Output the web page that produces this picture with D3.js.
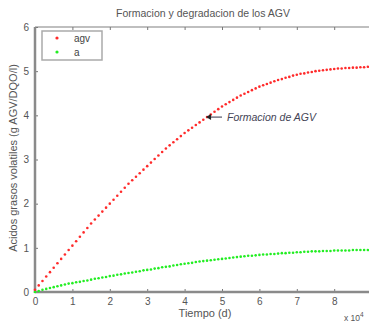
<!DOCTYPE html>
<html><head><meta charset="utf-8">
<script src="https://cdn.jsdelivr.net/npm/d3@7"></script>
<style>body{margin:0;background:#fff}svg{display:block}text{font-family:"Liberation Sans",Arial,sans-serif}</style>
</head><body><svg id="c" width="369" height="322"></svg>
<script>
const title = "Formacion y degradacion de los AGV";
const xLabel = "Tiempo (d)";
const yLabel = "Acidos grasos volatiles (g AGV/DQO/l)";
const xTicks = [0,1,2,3,4,5,6,7,8];
const yTicks = [0,1,2,3,4,5,6];
const seriesNames = ["agv","a"];
const time = [0.0,0.1,0.2,0.3,0.4,0.5,0.6,0.7,0.8,0.9,1.0,1.1,1.2,1.3,1.4,1.5,1.6,1.7,1.8,1.9,2.0,2.1,2.2,2.3,2.4,2.5,2.6,2.7,2.8,2.9,3.0,3.1,3.2,3.3,3.4,3.5,3.6,3.7,3.8,3.9,4.0,4.1,4.2,4.3,4.4,4.5,4.6,4.7,4.8,4.9,5.0,5.1,5.2,5.3,5.4,5.5,5.6,5.7,5.8,5.9,6.0,6.1,6.2,6.3,6.4,6.5,6.6,6.7,6.8,6.9,7.0,7.1,7.2,7.3,7.4,7.5,7.6,7.7,7.8,7.9,8.0,8.1,8.2,8.3,8.4,8.5,8.6,8.7,8.8,8.9,9.0];
const agv = [0.05,0.15,0.25,0.35,0.45,0.55,0.65,0.75,0.85,0.95,1.05,1.15,1.25,1.35,1.45,1.55,1.64,1.73,1.82,1.91,2.00,2.09,2.18,2.27,2.36,2.45,2.53,2.61,2.69,2.77,2.85,2.93,3.01,3.09,3.17,3.25,3.32,3.39,3.46,3.53,3.60,3.66,3.72,3.78,3.84,3.90,3.96,4.02,4.08,4.14,4.20,4.25,4.30,4.35,4.40,4.45,4.49,4.53,4.57,4.61,4.65,4.68,4.71,4.74,4.77,4.80,4.82,4.85,4.87,4.90,4.92,4.94,4.95,4.97,4.98,5.00,5.01,5.02,5.03,5.04,5.05,5.06,5.06,5.07,5.07,5.08,5.08,5.09,5.09,5.10,5.10];
const a = [0.00,0.02,0.05,0.07,0.09,0.11,0.13,0.15,0.17,0.19,0.20,0.22,0.23,0.25,0.26,0.28,0.30,0.31,0.33,0.34,0.36,0.37,0.39,0.40,0.42,0.43,0.44,0.46,0.47,0.49,0.50,0.51,0.53,0.54,0.56,0.57,0.58,0.60,0.61,0.63,0.64,0.65,0.66,0.68,0.69,0.70,0.71,0.72,0.73,0.74,0.75,0.76,0.77,0.78,0.79,0.80,0.81,0.82,0.82,0.83,0.84,0.85,0.85,0.86,0.86,0.87,0.88,0.88,0.89,0.89,0.90,0.90,0.91,0.91,0.92,0.92,0.92,0.93,0.93,0.93,0.94,0.94,0.94,0.94,0.94,0.95,0.95,0.95,0.95,0.95,0.95];
const annotation = "Formacion de AGV";
const annotationAt = [4.6, 3.96];

const svg = d3.select("#c");
const L = 35, T = 27, B = 292, R = 35 + 9*37.4;
const x = d3.scaleLinear().domain([0,9]).range([L,R]);
const y = d3.scaleLinear().domain([0,6]).range([B,T]);
const axisCol = "#8a8a8a", txtCol = "#555";

svg.append("line").attr("x1",L).attr("x2",R).attr("y1",T).attr("y2",T).attr("stroke","#aaa").attr("stroke-width",1.5);
svg.append("line").attr("x1",R).attr("x2",R).attr("y1",T).attr("y2",B).attr("stroke","#aaa").attr("stroke-width",1.5);

const gx = svg.append("g").attr("transform",`translate(0,${B})`)
  .call(d3.axisBottom(x).tickValues(xTicks).tickSize(-3).tickPadding(6).tickFormat(d3.format("d")));
const gxt = svg.append("g").attr("transform",`translate(0,${T})`)
  .call(d3.axisTop(x).tickValues(xTicks).tickSize(-3).tickFormat(""));
const gy = svg.append("g").attr("transform",`translate(${L},0)`)
  .call(d3.axisLeft(y).tickValues(yTicks).tickSize(-3).tickPadding(6).tickFormat(d3.format("d")));
[gx,gxt,gy].forEach(g=>{
  g.select(".domain").remove();
  g.selectAll(".tick line").attr("stroke","#777").attr("stroke-width",1);
  g.selectAll(".tick text").attr("fill",txtCol).style("font-size","10px");
});
svg.append("line").attr("x1",L).attr("x2",R).attr("y1",B).attr("y2",B).attr("stroke",axisCol).attr("stroke-width",2.5);
svg.append("line").attr("x1",L).attr("x2",L).attr("y1",T).attr("y2",B+1).attr("stroke",axisCol).attr("stroke-width",2.5);

const pts = time.map((t,i)=>({t, agv:agv[i], a:a[i]}));
svg.append("g").selectAll("circle").data(pts).join("circle")
  .attr("cx",d=>x(d.t)).attr("cy",d=>y(d.a)).attr("r",1.3).attr("fill","#22ee22");
svg.append("g").selectAll("circle").data(pts).join("circle")
  .attr("cx",d=>x(d.t)).attr("cy",d=>y(d.agv)).attr("r",1.3).attr("fill","#ff2a2a");

svg.append("rect").attr("x",42).attr("y",31).attr("width",60).attr("height",29)
  .attr("fill","#fff").attr("stroke","#aaa").attr("stroke-width",1.5);
const legCols = ["#ff2a2a","#22ee22"];
seriesNames.forEach((n,i)=>{
  svg.append("circle").attr("cx",57).attr("cy",38+i*14).attr("r",1.6).attr("fill",legCols[i]);
  svg.append("text").attr("x",74).attr("y",41.5+i*14).text(n).attr("fill","#444").style("font-size","10px");
});

svg.append("text").attr("x",203).attr("y",17).attr("text-anchor","middle").attr("fill","#555").style("font-size","10.5px").text(title);
svg.append("text").attr("x",205).attr("y",317).attr("text-anchor","middle").attr("fill","#555").style("font-size","11px").text(xLabel);
svg.append("text").attr("transform","translate(17,158) rotate(-90)").attr("text-anchor","middle").attr("fill","#555").style("font-size","11px").text(yLabel);
const ex = svg.append("text").attr("x",344).attr("y",321).attr("fill","#555").style("font-size","8.5px").text("x 10");
ex.append("tspan").attr("dy",-4).style("font-size","6.5px").text("4");

const ax0 = x(annotationAt[0]) - 1, ay0 = y(annotationAt[1]);
svg.append("line").attr("x1",ax0+3).attr("x2",ax0+16).attr("y1",ay0).attr("y2",ay0).attr("stroke","#556").attr("stroke-width",1.2);
svg.append("path").attr("d",`M${ax0},${ay0} l5,-3 l0,6 z`).attr("fill","#222");
svg.append("text").attr("x",ax0+21).attr("y",ay0+3.5).attr("fill","#445").style("font-size","10.5px").style("font-style","italic").text(annotation);
</script></body></html>
